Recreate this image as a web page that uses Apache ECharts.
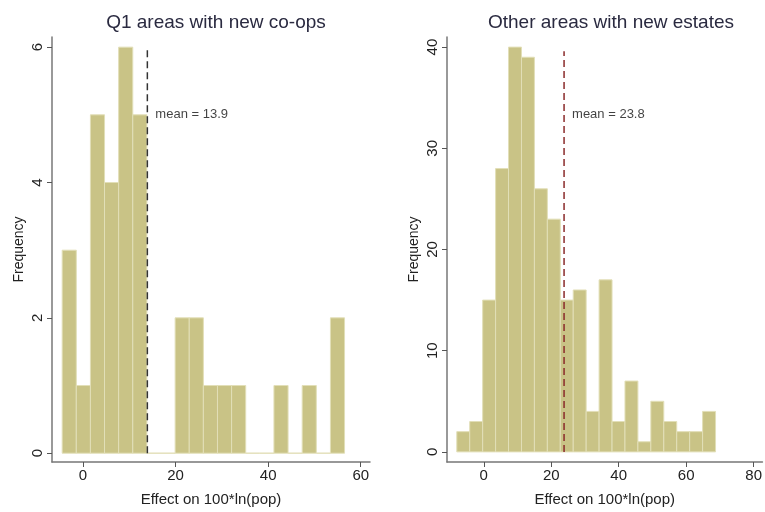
<!DOCTYPE html>
<html>
<head>
<meta charset="utf-8">
<script src="https://cdn.jsdelivr.net/npm/echarts@6/dist/echarts.min.js"></script>
<style>
  html, body { margin: 0; padding: 0; background: #fff; }
  #chart { width: 765px; height: 512px; }
</style>
</head>
<body>
<div id="chart"></div>
<script>
// histogram data
var leftTitle = "Q1 areas with new co-ops";
var leftBinStart = -4.5;
var leftBinWidth = 3.05;
var leftCounts = [3, 1, 5, 4, 6, 5, 0, 0, 2, 2, 1, 1, 1, 0, 0, 1, 0, 1, 0, 2];
var leftMean = 13.9;
var leftXTicks = [0, 20, 40, 60];
var leftYTicks = [0, 2, 4, 6];

var rightTitle = "Other areas with new estates";
var rightBinStart = -8.0;
var rightBinWidth = 3.835;
var rightCounts = [2, 3, 15, 28, 40, 39, 26, 23, 15, 16, 4, 17, 3, 7, 1, 5, 3, 2, 2, 4];
var rightMean = 23.8;
var rightXTicks = [0, 20, 40, 60, 80];
var rightYTicks = [0, 10, 20, 30, 40];

var xName = "Effect on 100*ln(pop)";
var yName = "Frequency";

var font = "'Liberation Sans', Arial, sans-serif";
var barColor = "#c9c386";

function bins(start, width, counts) {
  return counts.map(function (c, i) {
    return [start + i * width, start + (i + 1) * width, c];
  });
}

function renderBar(params, api) {
  var p0 = api.coord([api.value(0), 0]);
  var p1 = api.coord([api.value(1), api.value(2)]);
  return {
    type: "rect",
    shape: { x: p0[0], y: p1[1], width: p1[0] - p0[0], height: p0[1] - p1[1] },
    style: { fill: barColor, stroke: "#e2dfb8", lineWidth: 1 }
  };
}

function xAxis(idx, min, max, ticks) {
  return {
    type: "value", gridIndex: idx, min: min, max: max,
    name: xName, nameLocation: "middle", nameGap: 30,
    nameTextStyle: { fontFamily: font, fontSize: 15, color: "#222" },
    splitLine: { show: false },
    axisLine: { show: true, onZero: false, lineStyle: { color: "#777", width: 1.5 } },
    axisTick: { show: true, length: 5, customValues: ticks, lineStyle: { color: "#555" } },
    axisLabel: { customValues: ticks, fontFamily: font, fontSize: 15, color: "#222", margin: 6 }
  };
}

function yAxis(idx, min, max, ticks) {
  return {
    type: "value", gridIndex: idx, min: min, max: max,
    name: yName, nameLocation: "middle", nameGap: 26, nameRotate: 90,
    nameTextStyle: { fontFamily: font, fontSize: 14, color: "#222" },
    splitLine: { show: false },
    axisLine: { show: true, onZero: false, lineStyle: { color: "#777", width: 1.5 } },
    axisTick: { show: true, length: 5, customValues: ticks, lineStyle: { color: "#555" } },
    axisLabel: { customValues: ticks, rotate: 90, fontFamily: font, fontSize: 15, color: "#222", margin: 7 }
  };
}

function meanLine(idx, mean, top, labelY, color) {
  return [{
    type: "line", xAxisIndex: idx, yAxisIndex: idx,
    data: [[mean, 0], [mean, top]],
    symbol: "none", silent: true,
    lineStyle: { color: color, width: 1.5, type: [7, 4] },
    z: 5
  }, {
    type: "scatter", xAxisIndex: idx, yAxisIndex: idx,
    data: [[mean, labelY]], symbolSize: 0, silent: true,
    label: {
      show: true, position: "right", distance: 8,
      formatter: "mean = " + mean.toFixed(1),
      fontFamily: font, fontSize: 13, color: "#111"
    },
    z: 6
  }];
}

var chart = echarts.init(document.getElementById("chart"), null, { renderer: "canvas" });

var option = {
  backgroundColor: "#fff",
  animation: false,
  title: [
    { text: leftTitle, left: 211, top: 8, textAlign: "center",
      textStyle: { fontFamily: font, fontSize: 19, fontWeight: "normal", color: "#2a2a40" } },
    { text: rightTitle, left: 606, top: 8, textAlign: "center",
      textStyle: { fontFamily: font, fontSize: 19, fontWeight: "normal", color: "#2a2a40" } }
  ],
  grid: [
    { left: 52, top: 37, width: 318, height: 428 },
    { left: 447, top: 37, width: 318, height: 428 }
  ],
  xAxis: [
    xAxis(0, -6.7, 62, leftXTicks),
    xAxis(1, -10.9, 82.6, rightXTicks)
  ],
  yAxis: [
    yAxis(0, -0.13, 6.15, leftYTicks),
    yAxis(1, -1, 41, rightYTicks)
  ],
  series: [
    { type: "custom", xAxisIndex: 0, yAxisIndex: 0, renderItem: renderBar,
      data: bins(leftBinStart, leftBinWidth, leftCounts), encode: { x: [0, 1], y: 2 } },
    { type: "custom", xAxisIndex: 1, yAxisIndex: 1, renderItem: renderBar,
      data: bins(rightBinStart, rightBinWidth, rightCounts), encode: { x: [0, 1], y: 2 } }
  ]
    .concat(meanLine(0, leftMean, 6, 5, "#333"))
    .concat(meanLine(1, rightMean, 39.6, 33.3, "#8a2a2a"))
};

chart.setOption(option);
</script>
</body>
</html>
